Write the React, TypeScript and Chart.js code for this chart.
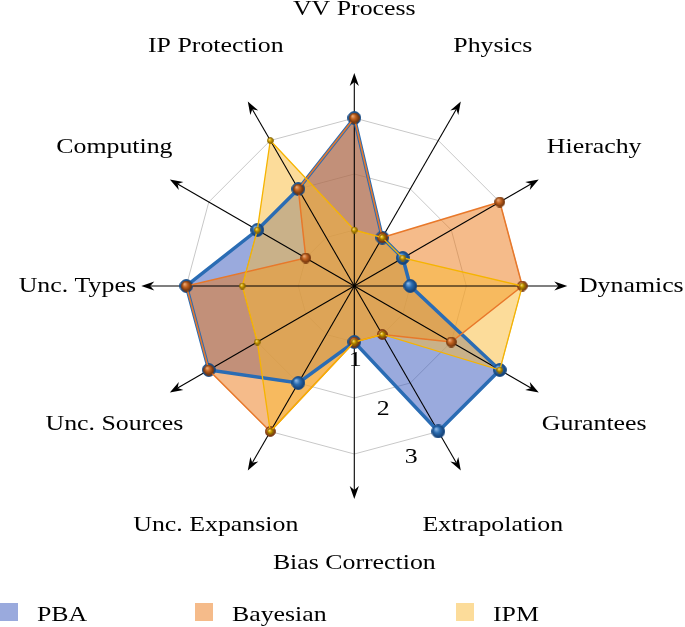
import { useEffect, useRef } from 'react';
import { Chart, registerables } from 'chart.js';

Chart.register(...registerables);

// ---- data ----
const LABELS = [
  'VV Process', 'Physics', 'Hierachy', 'Dynamics', 'Gurantees', 'Extrapolation',
  'Bias Correction', 'Unc. Expansion', 'Unc. Sources', 'Unc. Types', 'Computing', 'IP Protection',
];
const PBA = [3, 1, 1, 1, 3, 3, 1, 2, 3, 3, 2, 2];
const BAYESIAN = [3, 1, 3, 3, 2, 1, 1, 3, 3, 3, 1, 2];
const IPM = [1, 1, 1, 3, 3, 1, 1, 3, 2, 2, 2, 3];
const SERIES_NAMES = ['PBA', 'Bayesian', 'IPM'];
const TICK_VALUES = [1, 2, 3];
const TICK_LABELS = ['1', '2', '3'];
const TICK_AXIS_INDEX = 5;

// ---- layout / style ----
const W = 685;
const H = 627;
const CX = 354.3;
const CY = 286;
const RADIUS = 168;
const AXIS_EXT = 213 / 168;
const LABEL_R = 277 / 168;
const FONT = '21px "Liberation Serif", "Times New Roman", serif';
const SX = 1.23;
const LEGEND_X = [0, 195, 456];
const LEGEND_Y = 603;
const LEGEND_BOX = 18;
const LEGEND_TEXT_DX = 37;

function sphere(d: number, light: string, base: string, dark: string, edge: string) {
  const c = document.createElement('canvas');
  c.width = d;
  c.height = d;
  const ctx = c.getContext('2d')!;
  const r = d / 2;
  const g = ctx.createRadialGradient(r - r * 0.35, r - r * 0.4, 0, r, r, r);
  g.addColorStop(0, light);
  g.addColorStop(0.45, base);
  g.addColorStop(1, dark);
  ctx.beginPath();
  ctx.arc(r, r, r - 0.6, 0, Math.PI * 2);
  ctx.fillStyle = g;
  ctx.fill();
  ctx.lineWidth = 1;
  ctx.strokeStyle = edge;
  ctx.stroke();
  return c;
}

function drawText(ctx: CanvasRenderingContext2D, text: string, x: number, y: number, align: CanvasTextAlign, baseline: CanvasTextBaseline) {
  ctx.save();
  ctx.translate(x, y);
  ctx.scale(SX, 1);
  ctx.font = FONT;
  ctx.fillStyle = '#000';
  ctx.textAlign = align;
  ctx.textBaseline = baseline;
  ctx.fillText(text, 0, 0);
  ctx.restore();
}

const decor = {
  id: 'decor',
  beforeDatasetsDraw(chart: any) {
    const ctx: CanvasRenderingContext2D = chart.ctx;
    const s = chart.scales.r;
    ctx.save();
    ctx.strokeStyle = '#000';
    ctx.fillStyle = '#000';
    ctx.lineWidth = 1.1;
    for (let i = 0; i < LABELS.length; i++) {
      const p = s.getPointPosition(i, s.drawingArea * AXIS_EXT);
      const a = p.angle;
      const L = 13;
      const hw = 4.6;
      const notch = 4;
      const bx = p.x - Math.cos(a) * (L - notch);
      const by = p.y - Math.sin(a) * (L - notch);
      ctx.beginPath();
      ctx.moveTo(s.xCenter, s.yCenter);
      ctx.lineTo(bx, by);
      ctx.stroke();
      const backX = p.x - Math.cos(a) * L;
      const backY = p.y - Math.sin(a) * L;
      const nx = -Math.sin(a);
      const ny = Math.cos(a);
      ctx.beginPath();
      ctx.moveTo(p.x, p.y);
      ctx.lineTo(backX + nx * hw, backY + ny * hw);
      ctx.lineTo(bx, by);
      ctx.lineTo(backX - nx * hw, backY - ny * hw);
      ctx.closePath();
      ctx.fill();
    }
    ctx.restore();
  },
  afterDraw(chart: any) {
    const ctx: CanvasRenderingContext2D = chart.ctx;
    const s = chart.scales.r;
    // axis labels
    LABELS.forEach((lab, i) => {
      const p = s.getPointPosition(i, s.drawingArea * LABEL_R);
      drawText(ctx, lab, p.x, p.y, 'center', 'middle');
    });
    // tick labels
    TICK_VALUES.forEach((v, k) => {
      const p = s.getPointPosition(TICK_AXIS_INDEX, s.getDistanceFromCenterForValue(v));
      drawText(ctx, TICK_LABELS[k], p.x - 27, p.y + 26, 'center', 'middle');
    });
    // legend
    chart.data.datasets.forEach((ds: any, i: number) => {
      const x = LEGEND_X[i];
      ctx.save();
      ctx.fillStyle = '#fff';
      ctx.fillRect(x, LEGEND_Y, LEGEND_BOX, LEGEND_BOX);
      ctx.fillStyle = ds.backgroundColor;
      ctx.fillRect(x, LEGEND_Y, LEGEND_BOX, LEGEND_BOX);
      ctx.restore();
      drawText(ctx, ds.label, x + LEGEND_TEXT_DX, LEGEND_Y + LEGEND_BOX, 'left', 'alphabetic');
    });
  },
};

export default function App() {
  const ref = useRef<HTMLCanvasElement>(null);
  useEffect(() => {
    const pbaBall = sphere(14, '#9cc4ee', '#2b6cb0', '#0e3464', '#1b4f8a');
    const bayBall = sphere(11, '#f4b98a', '#c2621f', '#5e2a08', '#7a3a10');
    const ipmBall = sphere(7, '#fff2a8', '#d6a300', '#6e5200', '#8a6800');

    const chart = new Chart(ref.current!, {
      type: 'radar',
      data: {
        labels: LABELS,
        datasets: [
          {
            label: SERIES_NAMES[0],
            data: PBA,
            order: 3,
            fill: true,
            backgroundColor: 'rgba(53,85,187,0.5)',
            borderColor: '#2a6cb4',
            borderWidth: 3.5,
            pointStyle: pbaBall as any,
            pointRadius: 7,
          },
          {
            label: SERIES_NAMES[1],
            data: BAYESIAN,
            order: 2,
            fill: true,
            backgroundColor: 'rgba(235,119,21,0.5)',
            borderColor: '#e8782a',
            borderWidth: 1.5,
            pointStyle: bayBall as any,
            pointRadius: 5.5,
          },
          {
            label: SERIES_NAMES[2],
            data: IPM,
            order: 1,
            fill: true,
            backgroundColor: 'rgba(249,185,53,0.5)',
            borderColor: '#f6b400',
            borderWidth: 1.3,
            pointStyle: ipmBall as any,
            pointRadius: 3.5,
          },
        ],
      },
      options: {
        responsive: false,
        animation: false,
        devicePixelRatio: 1,
        layout: { padding: 0 },
        elements: { line: { tension: 0 } },
        plugins: {
          legend: { display: false },
          tooltip: { enabled: false },
          filler: { drawTime: 'beforeDatasetsDraw', propagate: false },
        } as any,
        scales: {
          r: {
            min: 0,
            max: 3,
            ticks: { display: false, stepSize: 1 },
            pointLabels: { display: false },
            angleLines: { display: false },
            grid: { color: '#c8c8c8', lineWidth: 1, circular: false },
            afterFit: (scale: any) => {
              scale.xCenter = CX;
              scale.yCenter = CY;
              scale.drawingArea = RADIUS;
            },
          } as any,
        },
      },
      plugins: [decor],
    });
    return () => chart.destroy();
  }, []);

  return (
    <div style={{ position: 'absolute', left: 0, top: 0, width: W, height: H, background: '#fff' }}>
      <canvas ref={ref} width={W} height={H} style={{ display: 'block', width: W, height: H }} />
    </div>
  );
}
